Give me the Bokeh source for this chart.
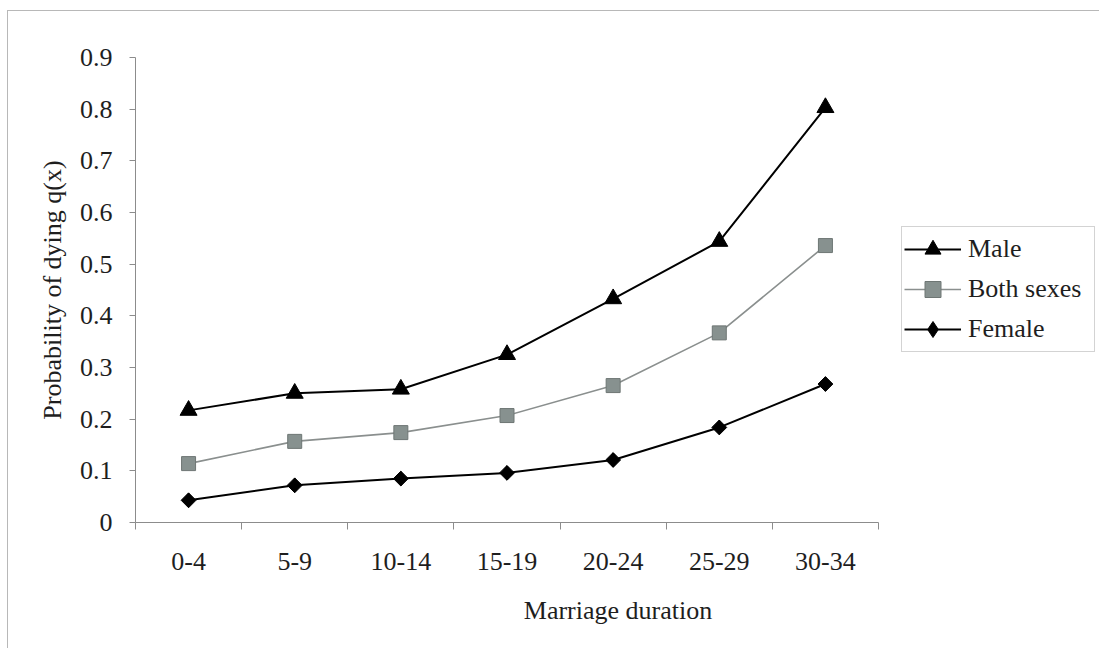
from bokeh.plotting import figure
from bokeh.models import Range1d, FixedTicker, Legend, LegendItem, ColumnDataSource
from bokeh.embed import file_html
from bokeh.resources import INLINE

# ---- data ----
categories = ["0-4", "5-9", "10-14", "15-19", "20-24", "25-29", "30-34"]
male = [0.217, 0.250, 0.258, 0.325, 0.433, 0.544, 0.803]
both_sexes = [0.114, 0.157, 0.174, 0.207, 0.265, 0.367, 0.536]
female = [0.043, 0.072, 0.085, 0.096, 0.121, 0.184, 0.268]
y_ticks = [0, 0.1, 0.2, 0.3, 0.4, 0.5, 0.6, 0.7, 0.8, 0.9]
y_tick_labels = ["0", "0.1", "0.2", "0.3", "0.4", "0.5", "0.6", "0.7", "0.8", "0.9"]
x_title = "Marriage duration"
y_title = "Probability of dying q(x)"
series_names = ["Male", "Both sexes", "Female"]

FONT = "Liberation Serif"
xpos = [i + 0.5 for i in range(len(categories))]
n = len(categories)

# layout constants (pixels)
W, H = 1092, 638
LEFT, TOP, BOTTOM = 127, 46, 127
AXIS_W = 743                     # width of the category axis
FRAME_W = W - LEFT               # frame extends to the right edge (room for legend)
x_end = n * FRAME_W / AXIS_W

p = figure(width=W, height=H, output_backend="svg", toolbar_location=None,
           x_range=Range1d(0, x_end), y_range=Range1d(0, 0.9),
           min_border_left=LEFT, min_border_right=0, min_border_top=TOP,
           min_border_bottom=BOTTOM)
p.styles = {"border-left": "1px solid #b8b8b8", "border-top": "1px solid #b8b8b8",
            "margin-left": "7px", "margin-top": "10px"}
p.outline_line_color = None
p.grid.visible = False
p.background_fill_color = "white"
p.border_fill_color = "white"

src = ColumnDataSource(dict(x=xpos, male=male, both=both_sexes, female=female))

AXIS_COLOR = "#8c8c8c"
TEXT_COLOR = "#1e1e1e"

# x axis
xa = p.xaxis[0]
xa.bounds = (0, n)
xa.ticker = FixedTicker(ticks=xpos, minor_ticks=list(range(n + 1)))
xa.major_label_overrides = {x: c for x, c in zip(xpos, categories)}
xa.major_tick_line_color = None
xa.major_tick_out = 0
xa.major_tick_in = 0
xa.minor_tick_line_color = AXIS_COLOR
xa.minor_tick_out = 7
xa.minor_tick_in = 0
xa.axis_line_color = AXIS_COLOR
xa.major_label_text_font = FONT
xa.major_label_text_font_size = "26px"
xa.major_label_text_color = TEXT_COLOR
xa.major_label_standoff = 23
xa.axis_label = x_title
xa.axis_label_text_font = FONT
xa.axis_label_text_font_size = "26px"
xa.axis_label_text_font_style = "normal"
xa.axis_label_text_color = TEXT_COLOR
xa.axis_label_standoff = 23

# y axis
ya = p.yaxis[0]
ya.ticker = FixedTicker(ticks=y_ticks, minor_ticks=[])
ya.major_label_overrides = {t: l for t, l in zip(y_ticks, y_tick_labels)}
ya.major_tick_line_color = AXIS_COLOR
ya.major_tick_out = 6
ya.major_tick_in = 0
ya.minor_tick_line_color = None
ya.axis_line_color = AXIS_COLOR
ya.major_label_text_font = FONT
ya.major_label_text_font_size = "26px"
ya.major_label_text_color = TEXT_COLOR
ya.major_label_standoff = 17
ya.axis_label = y_title
ya.axis_label_text_font = FONT
ya.axis_label_text_font_size = "26px"
ya.axis_label_text_font_style = "normal"
ya.axis_label_text_color = TEXT_COLOR
ya.axis_label_standoff = 10

# series
l_m = p.line("x", "male", source=src, line_color="black", line_width=2)
s_m = p.scatter("x", "male", source=src, marker="triangle", size=17,
                fill_color="black", line_color="black")
l_b = p.line("x", "both", source=src, line_color="#8a8f8e", line_width=1.6)
s_b = p.scatter("x", "both", source=src, marker="square", size=14,
                fill_color="#87918f", line_color="#6e7674")
l_f = p.line("x", "female", source=src, line_color="black", line_width=2)
s_f_leg = p.scatter("x", "female", source=src, marker="diamond", size=14,
                    fill_color="black", line_color="black")
s_f = p.scatter("x", "female", source=src, marker="square", size=10.5, angle=0.785398,
                fill_color="black", line_color="black")

legend = Legend(items=[
    LegendItem(label=series_names[0], renderers=[l_m, s_m]),
    LegendItem(label=series_names[1], renderers=[l_b, s_b]),
    LegendItem(label=series_names[2], renderers=[l_f, s_f_leg]),
], location=(766, 170), margin=0, padding=2, spacing=0,
    glyph_width=57, glyph_height=40, label_height=40, label_width=124, label_standoff=7,
    label_text_font=FONT, label_text_font_size="26px", label_text_color=TEXT_COLOR,
    border_line_color="#a8a8a8", border_line_width=1, background_fill_color="white")
p.add_layout(legend, "center")

open("out.html", "w").write(file_html(p, INLINE))
